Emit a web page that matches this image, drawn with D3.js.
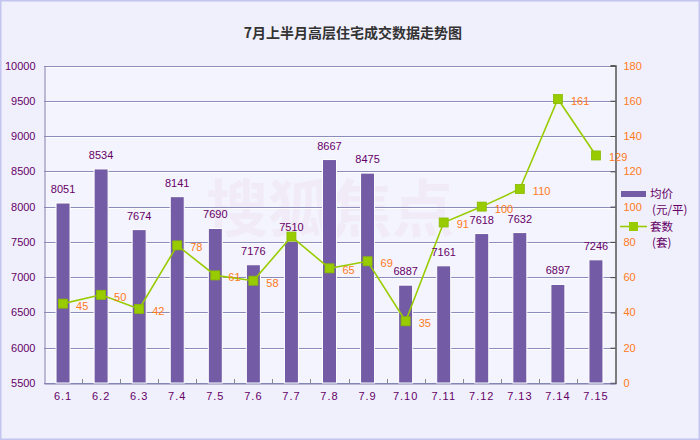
<!DOCTYPE html>
<html><head><meta charset="utf-8">
<script src="https://cdn.jsdelivr.net/npm/d3@7/dist/d3.min.js"></script>
<style>
html,body{margin:0;padding:0;background:#f0f0fd;}
svg{display:block;}
</style></head>
<body>
<script>
const categories = ["6.1","6.2","6.3","7.4","7.5","7.6","7.7","7.8","7.9","7.10","7.11","7.12","7.13","7.14","7.15"];
const avgPrice = [8051, 8534, 7674, 8141, 7690, 7176, 7510, 8667, 8475, 6887, 7161, 7618, 7632, 6897, 7246];
const dealCount = [45, 50, 42, 78, 61, 58, 83, 65, 69, 35, 91, 100, 110, 161, 129];
const leftTicks = [5500, 6000, 6500, 7000, 7500, 8000, 8500, 9000, 9500, 10000];
const rightTicks = [0, 20, 40, 60, 80, 100, 120, 140, 160, 180];
const hiddenCountLabels = ["7.7"];

const W = 700, H = 440;
const L = 44, R = 615, T = 65.5, B = 383;
const font = "'Liberation Sans', Arial, sans-serif";

const svg = d3.select("body").append("svg").attr("width", W).attr("height", H);
svg.append("rect").attr("x",0.5).attr("y",0.5).attr("width",W-1).attr("height",H-1)
  .attr("fill","#f0f0fd").attr("stroke","#c4c4f0").attr("stroke-width",2);

svg.append("text").attr("x",353).attr("y",38).attr("text-anchor","middle")
  .attr("font-family","'Noto Sans CJK SC', sans-serif").attr("font-weight","bold")
  .attr("font-size",14).attr("fill","#333").text("7月上半月高层住宅成交数据走势图");

const x = d3.scaleBand().domain(categories).range([L, R]).padding(0);
const yL = d3.scaleLinear().domain([5500, 10000]).range([B, T]);
const yR = d3.scaleLinear().domain([0, 180]).range([B, T]);

// plot background
svg.append("rect").attr("x",L).attr("y",T).attr("width",R-L).attr("height",B-T).attr("fill","#f4f4fe");

// watermark (faint logo)
svg.append("text").attr("x",330).attr("y",232).attr("text-anchor","middle")
  .attr("font-family","'Noto Sans CJK SC', sans-serif").attr("font-size",62).attr("font-weight","bold")
  .attr("fill","#e8c8d8").attr("opacity",0.18).text("搜狐焦点");

// gridlines
const grid = svg.append("g");
leftTicks.forEach(t => {
  const yy = Math.round(yL(t)) + 0.5;
  grid.append("line").attr("x1",L).attr("x2",R).attr("y1",yy).attr("y2",yy).attr("stroke","#8c8cbc");
  if (t !== 5500) grid.append("line").attr("x1",L).attr("x2",R).attr("y1",yy+1).attr("y2",yy+1).attr("stroke","#ffffff");
});

// left axis
const axL = d3.axisLeft(yL).tickValues(leftTicks).tickSize(0).tickPadding(9).tickFormat(d3.format("d"));
const gL = svg.append("g").attr("transform",`translate(${L+0.5},0)`).call(axL);
gL.select(".domain").attr("stroke","#8080b0");
gL.selectAll("text").attr("font-family",font).attr("font-size",11).attr("fill","#660066");

// right axis
const axR = d3.axisRight(yR).tickValues(rightTicks).tickSize(-5).tickPadding(8);
const gR = svg.append("g").attr("transform",`translate(${R+0.5},0)`).call(axR);
gR.select(".domain").attr("stroke","#555").attr("stroke-width",1.5);
gR.selectAll(".tick line").attr("stroke","#444");
gR.selectAll("text").attr("font-family",font).attr("font-size",11).attr("fill","#ff7a1a");

// bottom axis
const axB = d3.axisBottom(x).tickSize(0).tickPadding(9);
const gB = svg.append("g").attr("transform",`translate(0,${B+0.5})`).call(axB);
gB.select(".domain").attr("stroke","#8080b0");
gB.selectAll("text").attr("font-family",font).attr("font-size",11).attr("fill","#660066").attr("letter-spacing",1);
categories.slice(1).forEach(c => {
  const xx = Math.round(x(c)) + 0.5;
  svg.append("line").attr("x1",xx).attr("x2",xx).attr("y1",B).attr("y2",B-4).attr("stroke","#888");
});

// bars
const bw = 14;
const cx = (c)=> x(c) + x.bandwidth()/2;
const rows = categories.map((c,i)=>({c, p: avgPrice[i], n: dealCount[i]}));

svg.append("g").selectAll("rect").data(rows).join("rect")
  .attr("x",d=>cx(d.c) - bw/2)
  .attr("y",d=>yL(d.p))
  .attr("width",bw).attr("height",d=>B - yL(d.p))
  .attr("fill","#735ca5").attr("stroke","#ffffff").attr("stroke-width",1);

// line
const line = d3.line().x(d=>cx(d.c)).y(d=>yR(d.n));
svg.append("path").datum(rows).attr("d",line).attr("fill","none")
  .attr("stroke","#99cc00").attr("stroke-width",1.6);
svg.append("g").selectAll("rect").data(rows).join("rect")
  .attr("x",d=>cx(d.c)-4.5).attr("y",d=>yR(d.n)-4.5).attr("width",9).attr("height",9)
  .attr("fill","#99cc00").attr("stroke","#88bb00").attr("stroke-width",0.8);

// count labels
svg.append("g").selectAll("text").data(rows.filter(d=>!hiddenCountLabels.includes(d.c))).join("text")
  .attr("x",d=>cx(d.c)+13).attr("y",d=>yR(d.n)+6)
  .attr("font-family",font).attr("font-size",11).attr("fill","#ff7a1a")
  .text(d=>d.n);

// price labels
svg.append("g").selectAll("text").data(rows).join("text")
  .attr("x",d=>cx(d.c)).attr("y",d=>yL(d.p)-10)
  .attr("text-anchor","middle")
  .attr("font-family",font).attr("font-size",11).attr("fill","#660066")
  .text(d=>d.p);

// legend
const lg = svg.append("g").attr("font-family","'Noto Sans CJK SC', sans-serif").attr("font-size",11.5).attr("fill","#660066");
lg.append("rect").attr("x",621).attr("y",191).attr("width",25).attr("height",6).attr("fill","#735ca5");
lg.append("text").attr("x",650).attr("y",198).text("均价");
lg.append("text").attr("x",652).attr("y",214).text("(元/平)");
lg.append("line").attr("x1",620).attr("x2",647).attr("y1",226.5).attr("y2",226.5).attr("stroke","#99cc00").attr("stroke-width",1.6);
lg.append("rect").attr("x",629).attr("y",222).attr("width",9).attr("height",9).attr("fill","#99cc00");
lg.append("text").attr("x",650).attr("y",231).text("套数");
lg.append("text").attr("x",652).attr("y",247).text("(套)");
</script>
</body></html>
